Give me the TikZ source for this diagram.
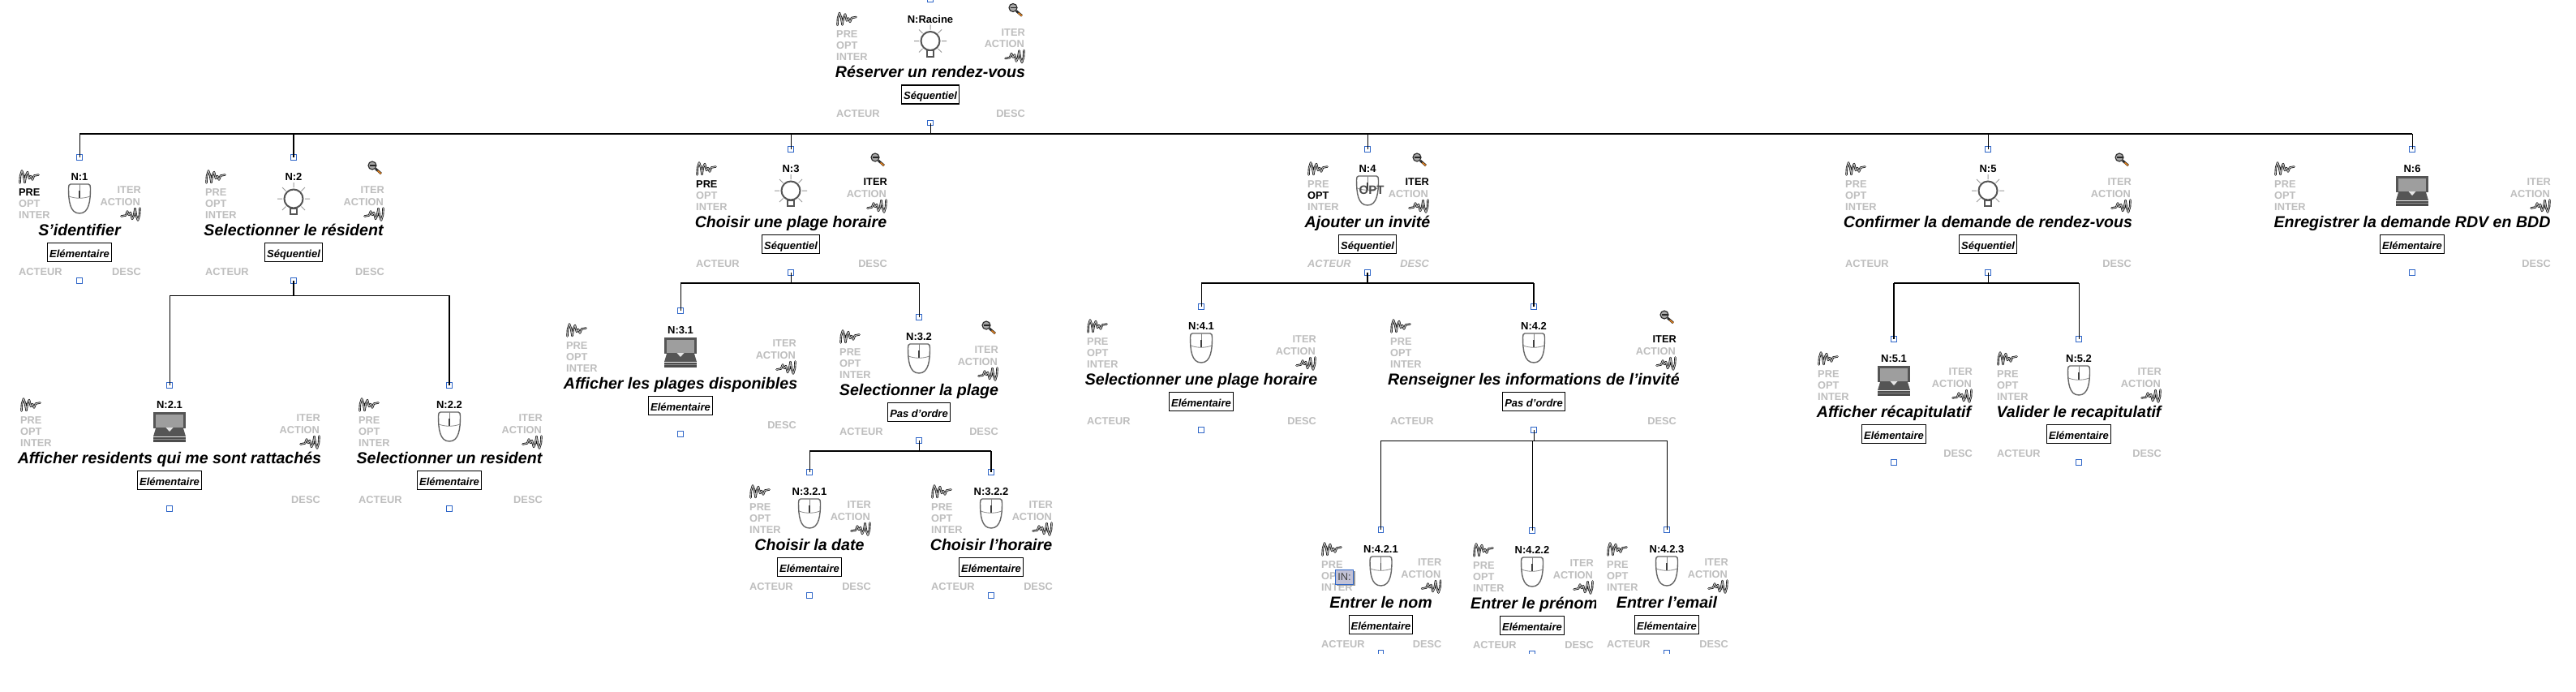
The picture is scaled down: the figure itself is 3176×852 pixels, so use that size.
\documentclass[tikz,border=0pt]{standalone}
\usepackage{fontspec}
\setmainfont{Liberation Sans}
\definecolor{lab}{HTML}{BEBEBE}
\definecolor{port}{HTML}{2F66C8}
\definecolor{icondark}{HTML}{555555}
\newif\ifTactor \newif\ifTmag \newif\ifTleft \newif\ifTclip
\pgfkeys{/task/.cd,
  icon/.store in=\tIcon, pre/.store in=\cPre, opt/.store in=\cOpt,
  iter/.store in=\cIter, actfont/.store in=\tAct,
  noactor/.code={\Tactorfalse}, mag/.code={\Tmagtrue},
  tleft/.code={\Tlefttrue}, tclip/.code={\Tcliptrue}}
\tikzset{
  portbox/.style={draw=port,line width=1pt,fill=white,minimum size=6.5pt,inner sep=0pt},
  lbl/.style={inner sep=0pt,font=\fontsize{12.8}{14}\bfseries\selectfont},
  nlbl/.style={inner sep=0pt,anchor=base,font=\fontsize{13}{14}\bfseries\selectfont},
  titlelbl/.style={inner sep=0pt,font=\fontsize{19.6}{22}\bfseries\itshape\selectfont},
  kindbox/.style={draw=black,line width=1.1pt,fill=white,inner xsep=2.5pt,inner ysep=0pt,
    minimum height=23pt,text height=12pt,text depth=0pt,font=\fontsize{13}{14}\bfseries\itshape\selectfont},
  wirethin/.style={draw=black,line width=1pt},
  wirebold/.style={draw=black,line width=2pt},
  pics/taskmouse/.style={code={
    \draw[draw=black!60,line width=1.4pt,fill=white]
      (-11,-18) -- (11,-18) .. controls (13,-18) and (13.5,-16) .. (13.5,-13)
      .. controls (13.5,2) and (12,18) .. (0,18)
      .. controls (-12,18) and (-13.5,2) .. (-13.5,-13)
      .. controls (-13.5,-16) and (-13,-18) .. (-11,-18) -- cycle;
    \draw[black!45,line width=.8pt] (-13,-3) .. controls (-5,0) and (5,0) .. (13,-3);
    \draw[black!50,line width=.8pt] (0,-18) -- (0,-1);
    \draw[black!75,line width=1.8pt] (0,-10) -- (0,-1);
  }},
  pics/taskbulb/.style={code={
    \draw[black!40,line width=1pt]
      (0,-20)--(0,-14) (-20,0)--(-14,0) (14,0)--(20,0)
      (-14,-14)--(-9.5,-9.5) (14,-14)--(9.5,-9.5)
      (-14,14)--(-9.5,9.5) (14,14)--(9.5,9.5);
    \draw[draw=icondark,line width=2pt,fill=white] (0,0) circle[radius=11.5];
    \draw[draw=icondark,line width=2pt,fill=white] (-4,11.5) rectangle (4,19);
  }},
  pics/taskscreen/.style={code={
    \fill[icondark] (-20,-18) rectangle (20,2);
    \fill[black!38] (-17,-15) rectangle (16.5,1);
    \fill[icondark] (-17,2) -- (17,2) -- (20,12) -- (-20,12) -- cycle;
    \fill[white!90!black] (-4.5,1) -- (4.5,1) -- (0,6) -- cycle;
    \fill[black!70] (-20,12.5) rectangle (20,18.5);
    \fill[black!45] (-20,14.5) rectangle (20,15.2);
  }},
  pics/taskworm/.style={code={
    \def\wormpath{(-11.5,7.5) -- (-11,-1) -- (-9,-7.5) -- (-7,-2) -- (-5.5,7) -- (-4,-2) -- (-2,-6) -- (0,2) -- (2,-1) -- (4,3.5) -- (6,-1.5) -- (11.5,-2.5)}
    \draw[black,line width=2.4pt,line join=round,line cap=round] \wormpath;
    \draw[black!30,line width=1.1pt,line join=round,line cap=round] \wormpath;
  }},
  pics/taskmag/.style={code={
    \draw[black!85,line width=2.8pt] (1,1) -- (8,7);
    \draw[orange!50!brown,line width=1.6pt] (3.5,3.5) -- (8,7);
    \draw[draw=black!85,line width=1.1pt,fill=black!35] (-3,-3) circle[radius=5];
    \draw[black!85,line width=1.4pt] (-6.5,-3) -- (0.5,-3);
  }},
}
\newcommand\tasknode[9][]{%
  \Tactortrue\Tmagfalse\Tleftfalse\Tclipfalse
  \pgfkeys{/task/.cd,icon=taskmouse,pre=lab,opt=lab,iter=lab,actfont=\relax,#1}%
  \node[portbox] (#2-top) at (#3,#4) {};
  \node[portbox] (#2-bot) at (#3,#4+152) {};
  \node[nlbl] (#2-num) at (#3,#4+28.5) {#7};
  \edef\tmpdraw{\noexpand\pic at (#3,#4+51) {\tIcon};}\tmpdraw
  \pic at (#5+13,#4+24) {taskworm};
  \pic[rotate=180] at (#6-13,#4+70) {taskworm};
  \ifTmag \pic at (#6-12,#4+13) {taskmag};\fi
  \node[lbl,anchor=base west,text=\cPre] (#2-pre) at (#5,#4+47) {PRE};
  \node[lbl,anchor=base west,text=\cOpt] (#2-opt) at (#5,#4+61) {OPT};
  \node[lbl,anchor=base west,text=lab] (#2-inter) at (#5,#4+75) {INTER};
  \node[lbl,anchor=base east,text=\cIter] (#2-iter) at (#6,#4+44.5) {ITER};
  \node[lbl,anchor=base east,text=lab] (#2-action) at (#6-1,#4+59) {ACTION};
  \begin{scope}
    \ifTclip \clip (#5-10,#4+70) rectangle (#6+2,#4+108);\fi
    \ifTleft
      \node[titlelbl,anchor=base west] (#2-title) at (#5-3,#4+96) {#8};
    \else
      \node[titlelbl,anchor=base] (#2-title) at (#3,#4+96) {#8};
    \fi
  \end{scope}
  \node[kindbox] (#2-kind) at (#3,#4+117) {#9};
  \ifTactor \node[lbl,anchor=base west,text=lab] (#2-actor) at (#5,#4+145) {\tAct ACTEUR};\fi
  \node[lbl,anchor=base east,text=lab] (#2-desc) at (#6,#4+145) {\tAct DESC};
}
\begin{document}
\begin{tikzpicture}[x=1pt,y=-1pt]
\useasboundingbox (0,0) rectangle (3176,852);
\fill[white] (0,0) rectangle (3176,852);
% root and first level
\tasknode[icon=taskbulb,mag]{nR}{1147}{-0.5}{1031}{1264}{N:Racine}{Réserver un rendez-vous}{Séquentiel}
\tasknode[pre=black]{n1}{98}{194}{23}{174}{N:1}{S'identifier}{Elémentaire}
\tasknode[icon=taskbulb,mag]{n2}{362}{194}{253}{474}{N:2}{Selectionner le résident}{Séquentiel}
\tasknode[icon=taskbulb,mag,pre=black,iter=black]{n3}{975}{184}{858}{1094}{N:3}{Choisir une plage horaire}{Séquentiel}
\tasknode[mag,opt=black,iter=black,actfont=\itshape]{n4}{1686}{184}{1612}{1762}{N:4}{Ajouter un invité}{Séquentiel}
\tasknode[icon=taskbulb,mag]{n5}{2451}{184}{2275}{2628}{N:5}{Confirmer la demande de rendez-vous}{Séquentiel}
\tasknode[icon=taskscreen,noactor]{n6}{2974}{184}{2804}{3145}{N:6}{Enregistrer la demande RDV en BDD}{Elémentaire}
% under N:2
\tasknode[icon=taskscreen,noactor]{n21}{209}{475}{25}{395}{N:2.1}{Afficher residents qui me sont rattachés}{Elémentaire}
\tasknode{n22}{554}{475}{442}{669}{N:2.2}{Selectionner un resident}{Elémentaire}
% under N:3
\tasknode[icon=taskscreen,noactor]{n31}{839}{383}{698}{982}{N:3.1}{Afficher les plages disponibles}{Elémentaire}
\tasknode[mag]{n32}{1133}{391}{1035}{1231}{N:3.2}{Selectionner la plage}{Pas d'ordre}
\tasknode{n321}{998}{582}{924}{1074}{N:3.2.1}{Choisir la date}{Elémentaire}
\tasknode{n322}{1222}{582}{1148}{1298}{N:3.2.2}{Choisir l'horaire}{Elémentaire}
% under N:4
\tasknode{n41}{1481}{378}{1340}{1623}{N:4.1}{Selectionner une plage horaire}{Elémentaire}
\tasknode[mag,iter=black,tleft,tclip]{n42}{1891}{378}{1714}{2067}{N:4.2}{Renseigner les informations de l'invité}{Pas d'ordre}
\tasknode{n421}{1702.5}{653}{1629}{1777.5}{N:4.2.1}{Entrer le nom}{Elémentaire}
\tasknode[tleft,tclip]{n422}{1889}{654}{1816}{1965}{N:4.2.2}{Entrer le prénom}{Elémentaire}
\tasknode{n423}{2055}{653}{1981}{2131}{N:4.2.3}{Entrer l'email}{Elémentaire}
% under N:5
\tasknode[icon=taskscreen,noactor]{n51}{2335}{418}{2241}{2432}{N:5.1}{Afficher récapitulatif}{Elémentaire}
\tasknode{n52}{2563}{418}{2462}{2665}{N:5.2}{Valider le recapitulatif}{Elémentaire}
% overlays
\node[inner sep=0pt,anchor=center,text=black!70,font=\fontsize{15}{15}\bfseries\selectfont] (optmark) at (1691,234) {OPT};
\fill[black!40] (1648,704) rectangle (1671,722);
\node[draw=port,line width=.8pt,fill=blue!12!lab!70!white,inner xsep=2pt,inner ysep=0pt,minimum width=22pt,minimum height=18pt,text=black!75,font=\fontsize{12.8}{14}\selectfont] (inmark) at (1657.5,711) {IN:};
% bottom edge cut-off of the lowest row
\fill[white] (1600,805.5) rectangle (2160,852);
% connectors
\coordinate (busR) at (1147,165);
\coordinate (bus2) at (362,364);
\coordinate (bus3) at (975,349);
\coordinate (bus32) at (1133,556);
\coordinate (bus4) at (1686,349);
\coordinate (bus42) at (1891,543);
\coordinate (bus5) at (2451,349);
\draw[wirethin] (nR-bot.center) -- (busR);
\draw[wirebold] (n1-top |- busR) -- (n6-top |- busR);
\draw[wirethin] (n1-top.center) -- (n1-top |- busR);
\draw[wirebold] (n2-top.center) -- (n2-top |- busR);
\foreach \k in {n3,n4,n5,n6} \draw[wirethin] (\k-top.center) -- (\k-top |- busR);
\draw[wirebold] (n2-bot.center) -- (bus2);
\draw[wirethin] (n21-top |- bus2) -- (n22-top |- bus2);
\draw[wirethin] (n21-top.center) -- (n21-top |- bus2);
\draw[wirebold] (n22-top.center) -- (n22-top |- bus2);
\draw[wirethin] (n3-bot.center) -- (bus3);
\draw[wirebold] (n31-top |- bus3) -- (n32-top |- bus3);
\draw[wirethin] (n31-top.center) -- (n31-top |- bus3);
\draw[wirethin] (n32-top.center) -- (n32-top |- bus3);
\draw[wirethin] (n32-bot.center) -- (bus32);
\draw[wirebold] (n321-top |- bus32) -- (n322-top |- bus32);
\draw[wirethin] (n321-top.center) -- (n321-top |- bus32);
\draw[wirebold] (n322-top.center) -- (n322-top |- bus32);
\draw[wirebold] (n4-bot.center) -- (bus4);
\draw[wirebold] (n41-top |- bus4) -- (n42-top |- bus4);
\draw[wirethin] (n41-top.center) -- (n41-top |- bus4);
\draw[wirebold] (n42-top.center) -- (n42-top |- bus4);
\draw[wirethin] (n42-bot.center) -- (bus42);
\draw[wirethin] (n421-top |- bus42) -- (n423-top |- bus42);
\foreach \k in {n421,n422,n423} \draw[wirethin] (\k-top.center) -- (\k-top |- bus42);
\draw[wirethin] (n5-bot.center) -- (bus5);
\draw[wirebold] (n51-top |- bus5) -- (n52-top |- bus5);
\draw[wirebold] (n51-top.center) -- (n51-top |- bus5);
\draw[wirethin] (n52-top.center) -- (n52-top |- bus5);
\end{tikzpicture}
\end{document}
